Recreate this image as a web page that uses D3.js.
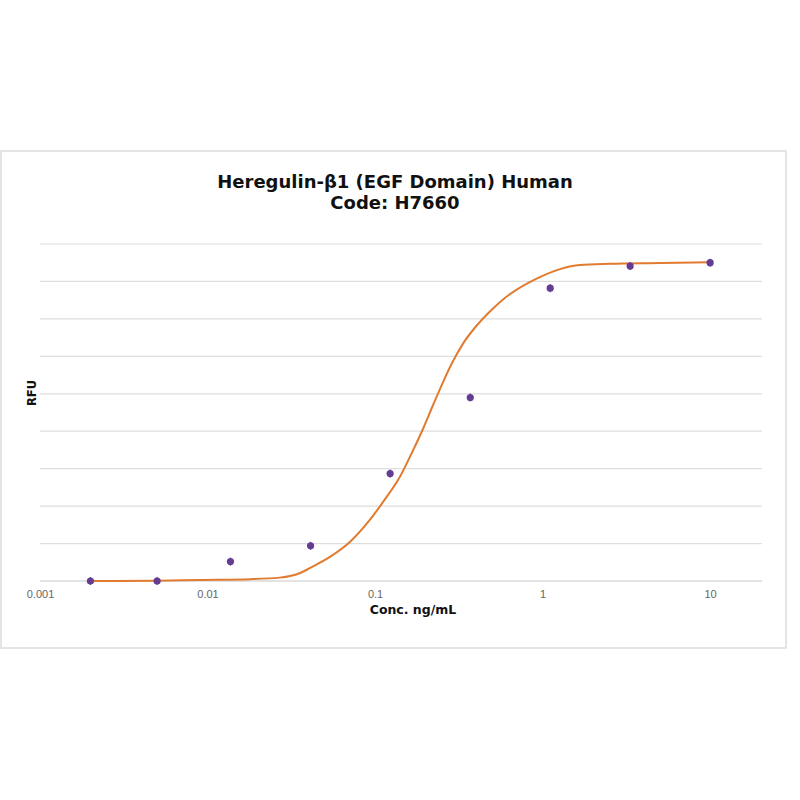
<!DOCTYPE html>
<html>
<head>
<meta charset="utf-8">
<script src="https://cdn.jsdelivr.net/npm/d3@7"></script>
<style>
  html, body { margin: 0; padding: 0; background: #fff; }
  svg { display: block; }
</style>
</head>
<body>
<svg id="chart" width="800" height="800"></svg>
<script>
// ---- data ----
const titleLines = ["Heregulin-\u03b21 (EGF Domain) Human", "Code: H7660"];
const xLabel = "Conc. ng/mL";
const yLabel = "RFU";
const xTicks = [0.001, 0.01, 0.1, 1, 10];
const xTickLabels = ["0.001", "0.01", "0.1", "1", "10"];
const xDomain = [0.001, 20.4];
const yDomain = [0, 9];
const yGrid = [0, 1, 2, 3, 4, 5, 6, 7, 8, 9];

// measured points
const pointConc = [0.002, 0.005, 0.0137, 0.0412, 0.123, 0.370, 1.11, 3.33, 10];
const pointRFU  = [0.0, 0.0, 0.52, 0.94, 2.87, 4.90, 7.82, 8.41, 8.50];

// fitted curve
const curveConc = [0.002, 0.005, 0.009, 0.018, 0.027, 0.036, 0.041, 0.054, 0.071, 0.093, 0.112, 0.141, 0.169, 0.194, 0.222, 0.255, 0.288, 0.335, 0.395, 0.506, 0.581, 0.927, 1.27, 1.67, 2.53, 5.02, 10];
const curveRFU  = [0.0, 0.01, 0.03, 0.05, 0.09, 0.22, 0.35, 0.65, 1.05, 1.63, 2.12, 2.79, 3.50, 4.08, 4.70, 5.32, 5.82, 6.34, 6.77, 7.28, 7.52, 8.08, 8.33, 8.44, 8.47, 8.49, 8.51];

// ---- drawing ----
const svg = d3.select("#chart");

// outer frame
svg.append("rect")
  .attr("x", 1).attr("y", 151).attr("width", 785).attr("height", 497)
  .attr("fill", "#fff").attr("stroke", "#dcdcdc").attr("stroke-width", 1.5);

const x = d3.scaleLog().domain(xDomain).range([40, 762]);
const y = d3.scaleLinear().domain(yDomain).range([581, 244]);

// gridlines
svg.append("g").selectAll("line").data(yGrid).join("line")
  .attr("x1", x(xDomain[0])).attr("x2", x(xDomain[1]))
  .attr("y1", d => y(d)).attr("y2", d => y(d))
  .attr("stroke", d => d === 0 ? "#c8c8c8" : "#dedede")
  .attr("stroke-width", 1.2);

// x axis labels via d3 axis
const xAxis = d3.axisBottom(x).tickValues(xTicks)
  .tickFormat((d, i) => xTickLabels[i]).tickSize(0).tickPadding(9);
const gx = svg.append("g").attr("transform", `translate(0,${y(0)})`).call(xAxis);
gx.select(".domain").remove();
gx.selectAll("text")
  .attr("fill", "#666").style("font-family", "'Liberation Sans', Arial, sans-serif")
  .style("font-size", "11px");

// curve
const line = d3.line().x(d => x(d[0])).y(d => y(d[1])).curve(d3.curveMonotoneX);
svg.append("path")
  .datum(curveConc.map((c, i) => [c, curveRFU[i]]))
  .attr("d", line)
  .attr("fill", "none").attr("stroke", "#e07b30").attr("stroke-width", 2);

// points
const pts = pointConc.map((c, i) => [c, pointRFU[i]]);
svg.append("g").selectAll("line").data(pts).join("line")
  .attr("x1", d => x(d[0])).attr("x2", d => x(d[0]))
  .attr("y1", d => y(d[1]) - 4).attr("y2", d => y(d[1]) + 4)
  .attr("stroke", "#5e3a8c").attr("stroke-width", 1.2);
svg.append("g").selectAll("circle").data(pts).join("circle")
  .attr("cx", d => x(d[0])).attr("cy", d => y(d[1])).attr("r", 3.6)
  .attr("fill", "#643c91");

// title
const font = "'DejaVu Sans', Verdana, sans-serif";
svg.append("text").attr("text-anchor", "middle")
  .style("font-family", font).style("font-weight", "bold").style("font-size", "18px")
  .attr("fill", "#111")
  .selectAll("tspan").data(titleLines).join("tspan")
  .attr("x", 395).attr("y", (d, i) => 188 + i * 21).text(d => d);

// axis titles
svg.append("text").attr("x", 413).attr("y", 614).attr("text-anchor", "middle")
  .style("font-family", font).style("font-weight", "bold").style("font-size", "12.5px")
  .attr("fill", "#111").text(xLabel);
svg.append("text").attr("transform", "translate(36,393) rotate(-90)").attr("text-anchor", "middle")
  .style("font-family", font).style("font-weight", "bold").style("font-size", "11.5px")
  .attr("fill", "#111").text(yLabel);
</script>
</body>
</html>
